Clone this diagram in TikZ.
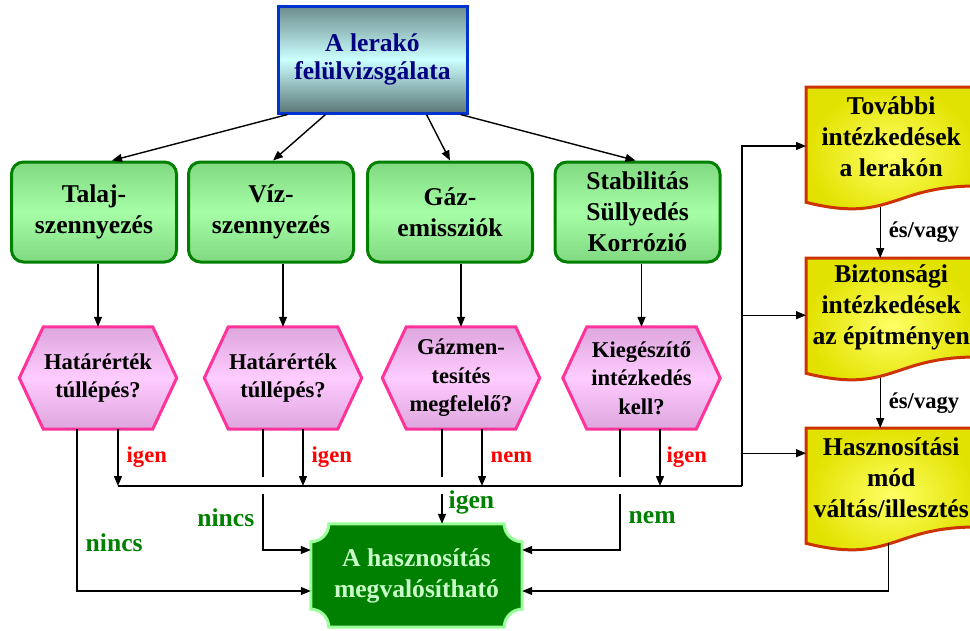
\documentclass[tikz,border=0pt]{standalone}
\usepackage{fontspec}
\setmainfont{Liberation Serif}
\usetikzlibrary{arrows.meta,backgrounds}
\definecolor{felsokek}{HTML}{0033CC}
\definecolor{felsoszel}{HTML}{6B8B8B}
\definecolor{felsokozep}{HTML}{CCFFFF}
\definecolor{felsoszoveg}{HTML}{000080}
\definecolor{sotetzold}{HTML}{008000}
\definecolor{zoldszel}{HTML}{80D880}
\definecolor{zoldkozep}{HTML}{A6FFA6}
\definecolor{hexkeret}{HTML}{FF3399}
\definecolor{hexszel}{HTML}{DDA6DD}
\definecolor{hexkozep}{HTML}{FFCCFF}
\definecolor{dokkeret}{HTML}{CC3300}
\definecolor{dokbelso}{HTML}{FFFF66}
\definecolor{dokkulso}{HTML}{E2E200}
\definecolor{vilagoszold}{HTML}{99FF99}
\definecolor{eredszoveg}{HTML}{C8FFC8}
\newcommand{\nagybetu}{\fontsize{25.6}{31}\selectfont\bfseries}
\newcommand{\kisbetu}{\fontsize{22.6}{28.5}\selectfont\bfseries}
\tikzstyle{every node}=[font=\nagybetu,align=center,inner sep=0pt]
\tikzstyle{vonal}=[line width=1.4pt,>={Triangle[length=10pt,width=8pt]}]
\tikzstyle{felso}=[draw=felsokek,line width=3pt,top color=felsoszel,bottom color=felsoszel!85!black,middle color=felsokozep,text=felsoszoveg,minimum width=189pt,minimum height=107pt,font=\fontsize{25.6}{28}\selectfont\bfseries]
\tikzstyle{terulet}=[draw=sotetzold,line width=3pt,rounded corners=12pt,top color=zoldszel,bottom color=zoldszel,middle color=zoldkozep,minimum width=165pt,minimum height=100pt]
\tikzstyle{kerdes}=[font=\kisbetu,minimum width=157pt,minimum height=102pt]
\tikzstyle{hexa}=[draw=hexkeret,line width=3pt,top color=hexszel,bottom color=hexszel,middle color=hexkozep]
\tikzstyle{dokumentum}=[anchor=north west,minimum width=170pt,minimum height=98.6pt]
\tikzstyle{doku}=[draw=dokkeret,line width=3pt,inner color=dokbelso,outer color=dokkulso]
\tikzstyle{eredmeny}=[text=eredszoveg,minimum width=211pt,minimum height=103pt]
\tikzstyle{ered}=[draw=vilagoszold,fill=sotetzold,line width=3pt]
\tikzstyle{piros}=[font=\kisbetu,text=red]
\tikzstyle{zold}=[text=sotetzold]

\begin{document}
\begin{tikzpicture}[x=1pt,y=-1pt]
  \useasboundingbox (0,0) rectangle (970,630);
  \node(felul)[felso] at (372.5,59.5) {A lerakó\\felülvizsgálata};
  \node(talaj)[terulet] at (94,212) {Talaj-\\szennyezés};
  \node(viz)[terulet] at (271,212) {Víz-\\szennyezés};
  \node(gaz)[terulet] at (450,212) {Gáz-\\emissziók};
  \node(stab)[terulet] at (637.5,212) {Stabilitás\\Süllyedés\\Korrózió};
  \node(hatar1)[kerdes] at (98,378) {Határérték\\túllépés?};
  \node(hatar2)[kerdes] at (283,378) {Határérték\\túllépés?};
  \node(gazmen)[kerdes] at (461,378) {Gázmen-\\tesítés\\megfelelő?};
  \node(kieg)[kerdes] at (641.5,378) {Kiegészítő\\intézkedés\\kell?};
  \node(tovabbi)[dokumentum] at (806,87) {További\\intézkedések\\a lerakón};
  \node(bizt)[dokumentum] at (806,258) {Biztonsági\\intézkedések\\az építményen};
  \node(haszmod)[dokumentum] at (806,428) {Hasznosítási\\mód\\váltás/illesztés};
  \node(hasz)[eredmeny] at (416.5,575.5) {A hasznosítás\\megvalósítható};
  \coordinate(sin) at (742,486);
  \coordinate(szakF) at (0,477);
  \coordinate(szakA) at (0,494);

  \begin{scope}[on background layer]
    \foreach \n in {hatar1,hatar2,gazmen,kieg}
      \path[hexa] (\n.west) -- ([xshift=24pt]\n.north west) -- ([xshift=-24pt]\n.north east)
        -- (\n.east) -- ([xshift=-24pt]\n.south east) -- ([xshift=24pt]\n.south west) -- cycle;
    \foreach \n in {tovabbi,bizt,haszmod}
      \path[doku] (\n.north west) -- (\n.north east) -- (\n.south east)
        .. controls (\n.south) and ([yshift=-37.6pt]\n.south) .. ([yshift=-16.3pt]\n.south west) -- cycle;
    \path[ered] ([xshift=18pt]hasz.north west) -- ([xshift=-18pt]hasz.north east)
      arc[start angle=180,end angle=270,radius=18pt] -- ([yshift=18pt]hasz.south east)
      arc[start angle=90,end angle=180,radius=18pt] -- ([xshift=18pt]hasz.south west)
      arc[start angle=0,end angle=90,radius=18pt] -- ([yshift=-18pt]hasz.north west)
      arc[start angle=270,end angle=360,radius=18pt] -- cycle;
  \end{scope}

  \draw[vonal,->] ([xshift=-85pt]felul.south) -- ([xshift=18pt]talaj.north);
  \draw[vonal,->] ([xshift=-47pt]felul.south) -- ([xshift=2pt]viz.north);
  \draw[vonal,->] ([xshift=54pt]felul.south) -- (gaz.north);
  \draw[vonal,->] ([xshift=88pt]felul.south) -- ([xshift=-2pt]stab.north);
  \foreach \a/\b in {talaj/hatar1,viz/hatar2,gaz/gazmen,stab/kieg}
    \draw[vonal,->] (\a.south -| \b) -- (\b.north);

  % igen/nem agak a gyujtovonalra
  \draw[vonal] ([xshift=20pt]hatar1.south |- sin) -- (sin);
  \draw[vonal,->] ([xshift=20pt]hatar1.south) -- ([xshift=20pt]hatar1.south |- sin) node[piros,midway,right=8pt]{igen};
  \draw[vonal,->] ([xshift=20pt]hatar2.south) -- ([xshift=20pt]hatar2.south |- sin) node[piros,midway,right=8pt]{igen};
  \draw[vonal,->] ([xshift=21pt]gazmen.south) -- ([xshift=21pt]gazmen.south |- sin) node[piros,midway,right=8pt]{nem};
  \draw[vonal,->] ([xshift=18.5pt]kieg.south) -- ([xshift=18.5pt]kieg.south |- sin) node[piros,midway,right=6pt]{igen};

  % a megvalosithato agak
  \draw[vonal,->] ([xshift=-21pt]hatar1.south) |- ([yshift=-15.5pt]hasz.west) node[zold,pos=.35,right=8pt]{nincs};
  \draw[vonal] ([xshift=-20pt]hatar2.south) -- ([xshift=-20pt]hatar2.south |- szakF);
  \draw[vonal,->] ([xshift=-20pt]hatar2.south |- szakA) |- ([yshift=25.5pt]hasz.west) node[zold,pos=.21,left=8pt]{nincs};
  \draw[vonal] ([xshift=-19pt]gazmen.south) -- ([xshift=-19pt]gazmen.south |- szakF);
  \draw[vonal,->] ([xshift=-19pt]gazmen.south |- szakA) -- ([xshift=-19pt]gazmen.south |- hasz.north) node[zold,pos=.27,right=6pt]{igen};
  \draw[vonal] ([xshift=-21.5pt]kieg.south) -- ([xshift=-21.5pt]kieg.south |- szakF);
  \draw[vonal,->] ([xshift=-21.5pt]kieg.south |- szakA) |- ([yshift=25.5pt]hasz.east) node[zold,pos=.21,right=8pt]{nem};

  % jobb oldal
  \draw[vonal,->] (sin) |- ([yshift=-9.5pt]tovabbi.west);
  \draw[vonal,->] (sin) |- ([yshift=-7.7pt]bizt.west);
  \draw[vonal,->] (sin) |- ([yshift=24.3pt]haszmod.west);
  \draw[vonal,->] ([xshift=-11pt,yshift=-21pt]tovabbi.south) -- ([xshift=-11pt]tovabbi.south |- bizt.north) node[midway,right=8pt,font=\kisbetu]{és/vagy};
  \draw[vonal,->] ([xshift=-11pt,yshift=-21pt]bizt.south) -- ([xshift=-11pt]bizt.south |- haszmod.north) node[midway,right=8pt,font=\kisbetu]{és/vagy};
  \draw[vonal,->] ([xshift=-3pt,yshift=-16pt]haszmod.south) |- ([yshift=-15.5pt]hasz.east);
\end{tikzpicture}
\end{document}
